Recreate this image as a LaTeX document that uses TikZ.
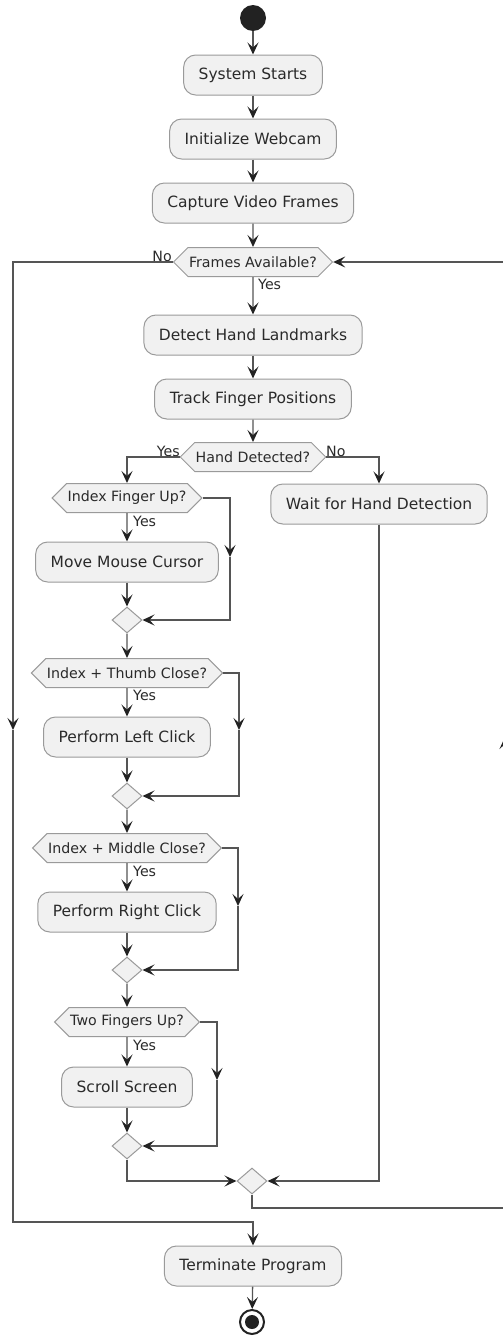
\documentclass[tikz,border=0pt]{standalone}
\usepackage{fontspec}
\setmainfont{DejaVu Sans}
\usetikzlibrary{shapes.geometric,shapes.symbols,arrows.meta}
\definecolor{nodefill}{HTML}{F1F1F1}
\definecolor{nodeline}{HTML}{9A9A9A}
\definecolor{linec}{HTML}{555555}
\definecolor{tipc}{HTML}{222222}
\definecolor{txt}{HTML}{2A2A2A}
\begin{document}
\begin{tikzpicture}[x=1pt,y=-1pt,
 act/.style={draw=nodeline, fill=nodefill, rounded corners=12pt, minimum height=40pt, inner xsep=15pt, inner ysep=0pt, font=\fontsize{15.5}{18}\selectfont, text=txt, line width=1pt},
 hex/.style={draw=nodeline, fill=nodefill, signal, signal to=west and east, signal pointer angle=90, minimum height=29pt, inner xsep=1pt, inner ysep=0pt, font=\fontsize{14.2}{17}\selectfont, text=txt, line width=1pt},
 merge/.style={draw=nodeline, fill=nodefill, diamond, minimum width=30pt, minimum height=26pt, inner sep=0pt, line width=1pt},
 conn/.style={draw=linec, line width=1.3pt},
 arr/.style={conn, -{Stealth[length=12pt,width=11pt,inset=5pt,color=tipc]}},
 lab/.style={font=\fontsize{14.2}{17}\selectfont, text=txt, inner sep=0pt},
]
\useasboundingbox (0,0) rectangle (503,1336);
% nodes
\node[circle, fill=tipc, minimum size=26pt, inner sep=0pt] (start) at (253,18) {};
\node[act] (s1) at (253,75) {System Starts};
\node[act] (s2) at (253,139) {Initialize Webcam};
\node[act] (s3) at (253,203) {Capture Video Frames};
\node[hex] (d0) at (253,262) {Frames Available?};
\node[act] (s4) at (253,335) {Detect Hand Landmarks};
\node[act] (s5) at (253,399) {Track Finger Positions};
\node[hex] (d1) at (253,457) {Hand Detected?};
\node[hex] (d2) at (127,498) {Index Finger Up?};
\node[act] (w) at (379,504) {Wait for Hand Detection};
\node[act] (a1) at (127,562) {Move Mouse Cursor};
\node[merge] (m1) at (127,620) {};
\node[hex] (d3) at (127,673) {Index + Thumb Close?};
\node[act] (a2) at (127,737) {Perform Left Click};
\node[merge] (m2) at (127,796) {};
\node[hex] (d4) at (127,848) {Index + Middle Close?};
\node[act] (a3) at (127,912) {Perform Right Click};
\node[merge] (m3) at (127,970) {};
\node[hex] (d5) at (127,1022) {Two Fingers Up?};
\node[act] (a4) at (127,1087) {Scroll Screen};
\node[merge] (m4) at (127,1146) {};
\node[merge] (m5) at (252,1181) {};
\node[act] (t) at (253,1266) {Terminate Program};
\node[circle, draw=tipc, line width=2pt, fill=white, minimum size=24pt, inner sep=0pt] (end) at (252,1322) {};
\node[circle, fill=tipc, minimum size=14pt, inner sep=0pt] (endin) at (end.center) {};
% labels
\node[lab, anchor=south east] (lno0) at (172,262) {No};
\node[lab, anchor=west] (lyes0) at (258,284) {Yes};
\node[lab, anchor=south east] (lyes1) at (180,457) {Yes};
\node[lab, anchor=south west] (lno1) at (326,457) {No};
\node[lab, anchor=west] (lyes2) at (133,521) {Yes};
\node[lab, anchor=west] (lyes3) at (133,695) {Yes};
\node[lab, anchor=west] (lyes4) at (133,871) {Yes};
\node[lab, anchor=west] (lyes5) at (133,1045) {Yes};
% helper coordinates
\coordinate (k2) at (230,557);
\coordinate (k3) at (239,730);
\coordinate (k4) at (238,906);
\coordinate (k5) at (217,1080);
\coordinate (kL) at (13,730);
\coordinate (kL2) at (13,1222);
\coordinate (kB) at (252,1208);
\coordinate (kR) at (505,737);
% main flow
\draw[arr] (start) -- (s1);
\draw[arr] (s1) -- (s2);
\draw[arr] (s2) -- (s3);
\draw[arr] (s3) -- (d0);
\draw[arr] (d0) -- (s4);
\draw[arr] (s4) -- (s5);
\draw[arr] (s5) -- (d1);
\draw[arr] (d1.west) -| (d2.north);
\draw[arr] (d1.east) -| (w.north);
% gesture chain
\draw[arr] (d2) -- (a1);
\draw[arr] (a1) -- (m1);
\draw[arr] (d2.east) -| (k2);
\draw[arr] (k2) |- (m1.east);
\draw[arr] (m1) -- (d3);
\draw[arr] (d3) -- (a2);
\draw[arr] (a2) -- (m2);
\draw[arr] (d3.east) -| (k3);
\draw[arr] (k3) |- (m2.east);
\draw[arr] (m2) -- (d4);
\draw[arr] (d4) -- (a3);
\draw[arr] (a3) -- (m3);
\draw[arr] (d4.east) -| (k4);
\draw[arr] (k4) |- (m3.east);
\draw[arr] (m3) -- (d5);
\draw[arr] (d5) -- (a4);
\draw[arr] (a4) -- (m4);
\draw[arr] (d5.east) -| (k5);
\draw[arr] (k5) |- (m4.east);
% merges
\draw[arr] (m4.south) |- (m5.west);
\draw[arr] (w.south) |- (m5.east);
% loop back
\draw[arr] (m5.south) -- (kB) -| (kR);
\draw[arr] (kR) |- (d0.east);
% exit
\draw[arr] (d0.west) -| (kL);
\draw[arr] (kL) -- (kL2) -| (t.north);
\draw[arr] (t) -- (end);
\end{tikzpicture}
\end{document}
